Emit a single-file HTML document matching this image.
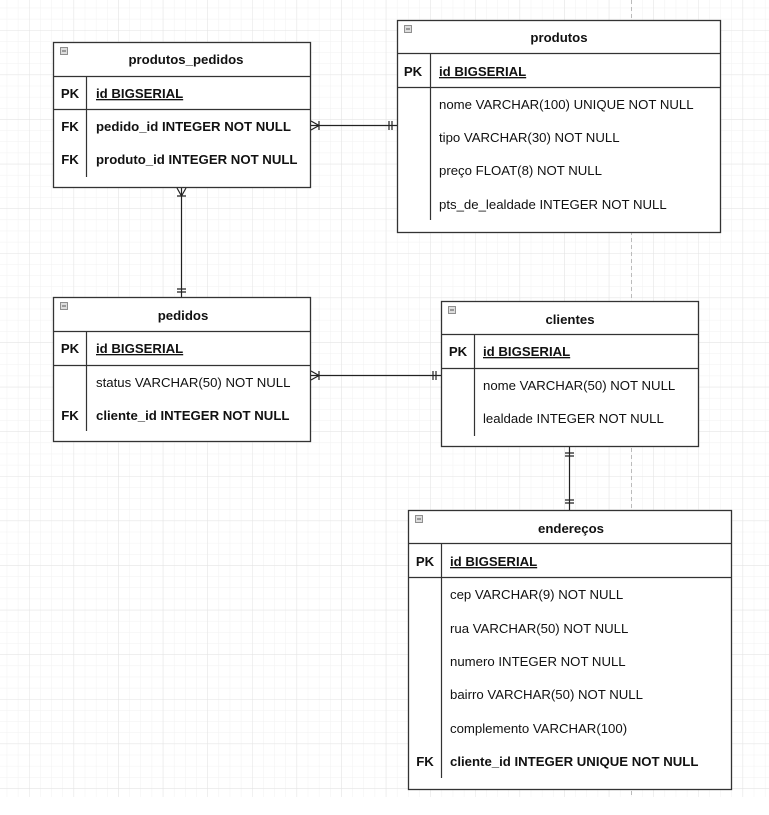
<!DOCTYPE html>
<html><head><meta charset="utf-8"><style>html,body{margin:0;padding:0;background:#fff}svg{display:block}text{font-family:"Liberation Sans",Arial,sans-serif;font-size:13.2px;fill:#111}.b{font-weight:bold}</style></head><body>
<svg width="769" height="815" xmlns="http://www.w3.org/2000/svg">
<defs>
<pattern id="mi" x="29" y="30" width="11.15" height="11.15" patternUnits="userSpaceOnUse"><path d="M0 0V11.15M0 0H11.15" stroke="#f1f1f1" stroke-width="1" fill="none"/></pattern>
<pattern id="ma" x="29" y="30" width="44.6" height="44.6" patternUnits="userSpaceOnUse"><path d="M0 0V44.6M0 0H44.6" stroke="#e3e3e3" stroke-width="1" fill="none"/></pattern>
</defs>
<rect x="0" y="0" width="769" height="797" fill="url(#mi)"/>
<rect x="0" y="0" width="769" height="797" fill="url(#ma)"/>
<line x1="631.5" y1="0" x2="631.5" y2="797" stroke="#bbb" stroke-dasharray="4,3"/>
<g stroke="#222" stroke-width="1.2" fill="none">
<line x1="310" y1="125.5" x2="397" y2="125.5"/>
<path d="M311 121L319 125.5L311 130M319 121V130M389 121V130M392 121V130"/>
<line x1="181.5" y1="187" x2="181.5" y2="297"/>
<path d="M177 188L181.5 196L186 188M177 196H186M177 289H186M177 292H186"/>
<line x1="310" y1="375.5" x2="441" y2="375.5"/>
<path d="M311 371L319 375.5L311 380M319 371V380M433 371V380M436 371V380"/>
<line x1="569.5" y1="446" x2="569.5" y2="510"/>
<path d="M565 453H574M565 456H574M565 500H574M565 503H574"/>
</g>
<g stroke="#333" stroke-width="1.3" fill="#fff">
<rect x="53.5" y="42.5" width="257" height="145"/>
<rect x="397.5" y="20.5" width="323" height="212"/>
<rect x="53.5" y="297.5" width="257" height="144"/>
<rect x="441.5" y="301.5" width="257" height="145"/>
<rect x="408.5" y="510.5" width="323" height="279"/>
</g>
<g stroke="#333" stroke-width="1.2" fill="none">
<path d="M53 76.5H310M53 109.5H310M86.5 76V177"/>
<path d="M397 53.5H720M397 87.5H720M430.5 53V220"/>
<path d="M53 331.5H310M53 365.5H310M86.5 331V431"/>
<path d="M441 334.5H698M441 368.5H698M474.5 334V436"/>
<path d="M408 543.5H731M408 577.5H731M441.5 543V778"/>
</g>
<g fill="#ddd" stroke="#777" stroke-width="0.8">
<rect x="60.5" y="47.5" width="7" height="7"/><rect x="404.5" y="25.5" width="7" height="7"/><rect x="60.5" y="302.5" width="7" height="7"/><rect x="448.5" y="306.5" width="7" height="7"/><rect x="415.5" y="515.5" width="7" height="7"/>
</g>
<g stroke="#555" stroke-width="1"><path d="M62 51H66M406 29H410M62 306H66M450 310H454M417 519H421"/></g>
<g text-anchor="middle">
<text x="186" y="64" class="b">produtos_pedidos</text>
<text x="559" y="42" class="b">produtos</text>
<text x="183" y="320" class="b">pedidos</text>
<text x="570" y="324" class="b">clientes</text>
<text x="571" y="533" class="b">endereços</text>
<text x="70" y="98" class="b">PK</text><text x="70" y="131" class="b">FK</text><text x="70" y="164" class="b">FK</text>
<text x="413" y="76" class="b">PK</text>
<text x="70" y="353" class="b">PK</text><text x="70" y="420" class="b">FK</text>
<text x="458" y="356" class="b">PK</text>
<text x="425" y="566" class="b">PK</text><text x="425" y="766" class="b">FK</text>
</g>
<text x="96" y="98" class="b" text-decoration="underline">id BIGSERIAL</text>
<text x="96" y="131" class="b">pedido_id INTEGER NOT NULL</text>
<text x="96" y="164" class="b">produto_id INTEGER NOT NULL</text>
<text x="439" y="76" class="b" text-decoration="underline">id BIGSERIAL</text>
<text x="439" y="109">nome VARCHAR(100) UNIQUE NOT NULL</text>
<text x="439" y="142">tipo VARCHAR(30) NOT NULL</text>
<text x="439" y="175">preço FLOAT(8) NOT NULL</text>
<text x="439" y="209">pts_de_lealdade INTEGER NOT NULL</text>
<text x="96" y="353" class="b" text-decoration="underline">id BIGSERIAL</text>
<text x="96" y="387">status VARCHAR(50) NOT NULL</text>
<text x="96" y="420" class="b">cliente_id INTEGER NOT NULL</text>
<text x="483" y="356" class="b" text-decoration="underline">id BIGSERIAL</text>
<text x="483" y="390">nome VARCHAR(50) NOT NULL</text>
<text x="483" y="423">lealdade INTEGER NOT NULL</text>
<text x="450" y="566" class="b" text-decoration="underline">id BIGSERIAL</text>
<text x="450" y="599">cep VARCHAR(9) NOT NULL</text>
<text x="450" y="633">rua VARCHAR(50) NOT NULL</text>
<text x="450" y="666">numero INTEGER NOT NULL</text>
<text x="450" y="699">bairro VARCHAR(50) NOT NULL</text>
<text x="450" y="733">complemento VARCHAR(100)</text>
<text x="450" y="766" class="b">cliente_id INTEGER UNIQUE NOT NULL</text>
</svg>
</body></html>
